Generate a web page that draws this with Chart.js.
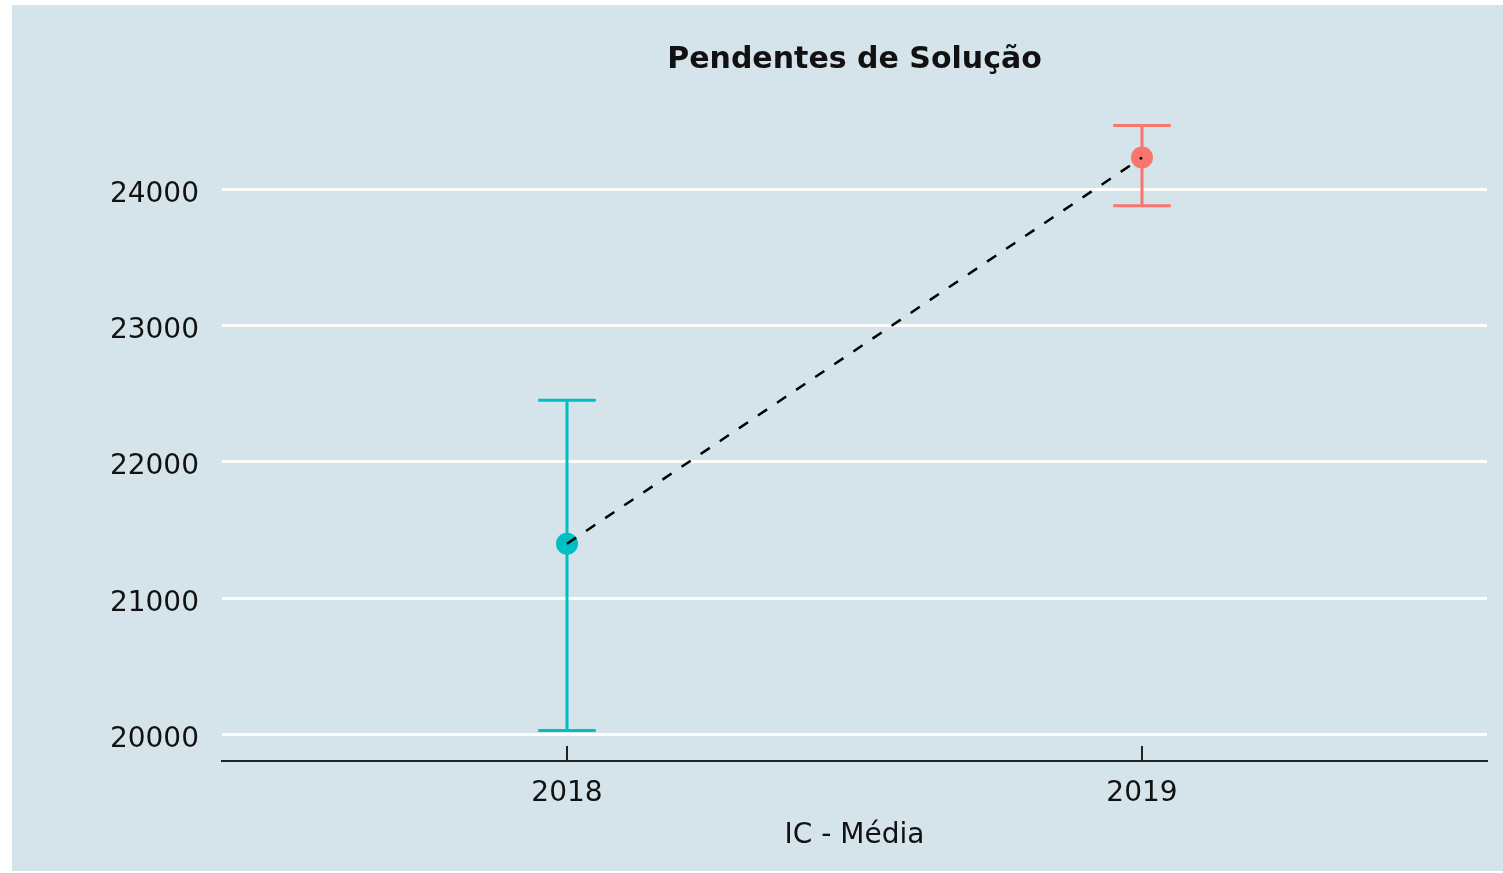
<!DOCTYPE html>
<html>
<head>
<meta charset="utf-8">
<script src="https://cdn.jsdelivr.net/npm/chart.js@4"></script>
<style>
    body { margin: 0; background: #ffffff; }
    #wrap { position: absolute; left: 12px; top: 5px; width: 1491px; height: 866px; background: #d5e3ea; }
</style>
</head>
<body>
<div id="wrap"><canvas id="ic-media" width="1491" height="866"></canvas></div>
<script>
var years = [2018, 2019];
var means = [21400, 24232];
var lower = [20030, 23878];
var upper = [22452, 24468];
var colors = ["#00bfc4", "#f8766d"];
var yTicks = [20000, 21000, 22000, 23000, 24000];
var chartTitle = "Pendentes de Solução";

window.addEventListener("load", init);

// error bars + inward x tick marks, positioned through the chart scales
var errorBars = {
    id: "errorBars",
    beforeDatasetsDraw: function (chart) {
        var ctx = chart.ctx;
        var x = chart.scales.x;
        var y = chart.scales.y;
        ctx.save();
        ctx.lineWidth = 3;
        for (var i = 0; i < years.length; i++) {
            var px = x.getPixelForValue(years[i]);
            var capL = x.getPixelForValue(years[i] - 0.05);
            var capR = x.getPixelForValue(years[i] + 0.05);
            var top = y.getPixelForValue(upper[i]);
            var bot = y.getPixelForValue(lower[i]);
            ctx.strokeStyle = colors[i];
            ctx.beginPath();
            ctx.moveTo(px, top); ctx.lineTo(px, bot);
            ctx.moveTo(capL, top); ctx.lineTo(capR, top);
            ctx.moveTo(capL, bot); ctx.lineTo(capR, bot);
            ctx.stroke();
        }
        ctx.strokeStyle = "#222222";
        ctx.lineWidth = 2;
        ctx.beginPath();
        for (var j = 0; j < years.length; j++) {
            var tx = x.getPixelForValue(years[j]);
            ctx.moveTo(tx, chart.chartArea.bottom);
            ctx.lineTo(tx, chart.chartArea.bottom - 15);
        }
        ctx.stroke();
        ctx.restore();
    },
    // title centred over the plot panel, like ggplot
    afterDraw: function (chart) {
        var ctx = chart.ctx;
        var area = chart.chartArea;
        ctx.save();
        ctx.font = "bold 30px 'DejaVu Sans'";
        ctx.fillStyle = "#111111";
        ctx.textAlign = "center";
        ctx.textBaseline = "alphabetic";
        ctx.fillText(chartTitle, (area.left + area.right) / 2, 63);
        ctx.restore();
    }
};

function init() {
    Chart.defaults.font.family = "'DejaVu Sans'";
    Chart.defaults.color = "#111111";

    var meanPoints = years.map(function (yr, i) { return { x: yr, y: means[i] }; });

    const data = {
        datasets: [
            {
                type: 'line',
                label: 'Média',
                data: meanPoints,
                borderColor: '#000000',
                borderWidth: 2.5,
                borderDash: [11, 12],
                pointRadius: 0,
                fill: false,
                order: 1
            },
            {
                type: 'scatter',
                label: 'Pontos',
                data: meanPoints,
                pointRadius: 11,
                pointBackgroundColor: colors,
                pointBorderColor: colors,
                pointBorderWidth: 0,
                order: 2
            }
        ]
    };

    const config = {
        type: 'scatter',
        data: data,
        options: {
            responsive: false,
            animation: false,
            layout: { padding: { left: 0, right: 16, top: 90, bottom: 0 } },
            scales: {
                x: {
                    type: 'linear',
                    min: 2017.4,
                    max: 2019.6,
                    afterBuildTicks: function (scale) {
                        scale.ticks = years.map(function (v) { return { value: v }; });
                    },
                    afterFit: function (scale) { scale.height = 110; },
                    grid: { display: false, drawTicks: false },
                    border: { display: true, color: '#222222', width: 2 },
                    ticks: {
                        padding: 16,
                        font: { size: 28 },
                        color: '#111111',
                        callback: function (v) { return String(v); }
                    },
                    title: {
                        display: true,
                        text: 'IC - Média',
                        font: { size: 28 },
                        color: '#111111',
                        padding: { top: 0, bottom: 18 }
                    }
                },
                y: {
                    type: 'linear',
                    min: 19807,
                    max: 24691,
                    afterBuildTicks: function (scale) {
                        scale.ticks = yTicks.map(function (v) { return { value: v }; });
                    },
                    afterFit: function (scale) { scale.width = 210; },
                    grid: { color: '#ffffff', lineWidth: 3, drawTicks: false },
                    border: { display: false },
                    ticks: {
                        padding: 23,
                        labelOffset: 5,
                        font: { size: 28 },
                        color: '#111111',
                        callback: function (v) { return String(v); }
                    }
                }
            },
            plugins: {
                legend: { display: false },
                tooltip: { enabled: false },
                title: { display: false }
            }
        },
        plugins: [errorBars]
    };
    const icChart = new Chart(document.getElementById("ic-media"), config);
}
</script>
</body>
</html>
